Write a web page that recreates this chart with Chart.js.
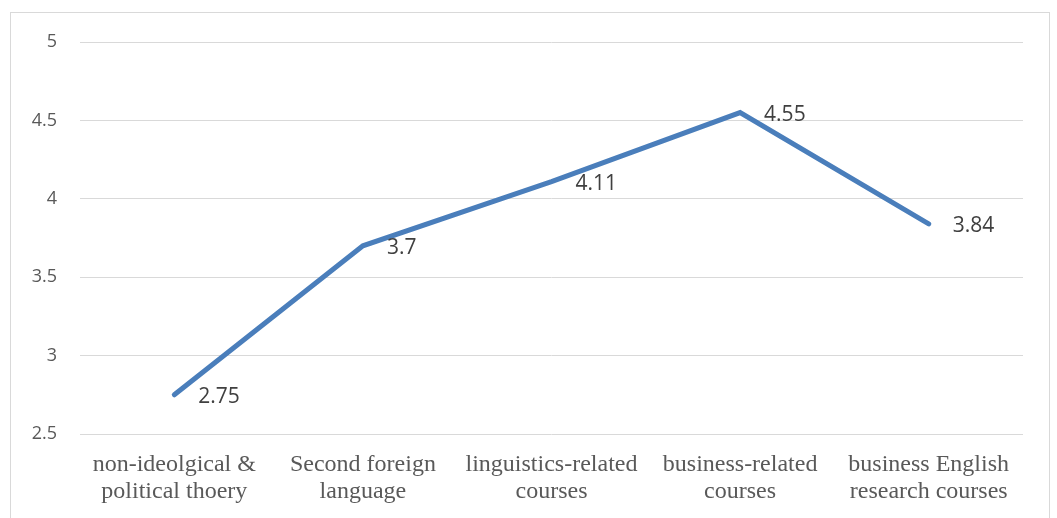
<!DOCTYPE html>
<html><head><meta charset="utf-8">
<script src="https://cdn.jsdelivr.net/npm/chart.js@4/dist/chart.umd.min.js"></script>
<style>
html,body{margin:0;padding:0;background:#fff;}
#wrap{position:absolute;left:0;top:0;width:1057px;height:518px;}
#frame{position:absolute;left:10px;top:12px;width:1040px;height:520px;border:1px solid #d9d9d9;box-sizing:border-box;}
canvas{position:absolute;left:0;top:0;}
</style></head><body>
<div id="wrap"><div id="frame"></div><canvas id="c" width="1057" height="518"></canvas></div>
<script>
const categories = [
  ["non-ideolgical &", "political thoery"],
  ["Second foreign", "language"],
  ["linguistics-related", "courses"],
  ["business-related", "courses"],
  ["business English", "research courses"]
];
const values = [2.75, 3.7, 4.11, 4.55, 3.84];
const yMin = 2.5, yMax = 5, yStep = 0.5;

const labelPlugin = {
  id: 'dataLabels',
  afterDatasetsDraw(chart) {
    const ctx = chart.ctx;
    const meta = chart.getDatasetMeta(0);
    ctx.save();
    ctx.font = '21px "Open Sans", sans-serif';
    ctx.fillStyle = '#404040';
    ctx.textAlign = 'left';
    ctx.textBaseline = 'middle';
    meta.data.forEach((pt, i) => {
      ctx.fillText(String(values[i]), pt.x + 24, pt.y + 2);
    });
    ctx.restore();
  }
};

new Chart(document.getElementById('c'), {
  type: 'line',
  data: { labels: categories, datasets: [{ data: values, borderColor: '#4a7ebb', borderWidth: 5, pointRadius: 0, tension: 0, fill: false, borderCapStyle: 'round', borderJoinStyle: 'miter' }] },
  options: {
    responsive: false, animation: false,
    layout: { padding: { left: 0, right: 34, top: 42, bottom: 0 } },
    plugins: { legend: { display: false }, tooltip: { enabled: false } },
    scales: {
      x: {
        offset: true,
        grid: { display: false, offset: true }, border: { display: false },
        ticks: { font: { family: '"Liberation Serif", serif', size: 24, lineHeight: 1.12 }, color: '#595959', padding: 9, maxRotation: 0, autoSkip: false },
        afterFit(s) { s.height = 84; }
      },
      y: {
        min: yMin, max: yMax,
        grid: { color: '#d9d9d9', lineWidth: 1, drawTicks: false },
        border: { display: false },
        ticks: { stepSize: yStep, font: { family: '"Open Sans", sans-serif', size: 18 }, color: '#595959', padding: 23, callback: v => String(v) },
        afterFit(s) { s.width = 80; }
      }
    }
  },
  plugins: [labelPlugin]
});
</script>
</body></html>
